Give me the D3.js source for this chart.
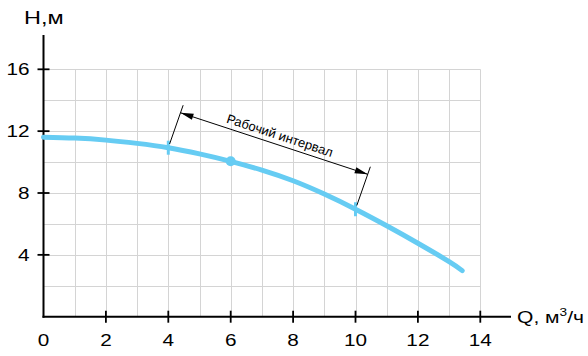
<!DOCTYPE html>
<html><head><meta charset="utf-8">
<script src="https://cdn.jsdelivr.net/npm/d3@7"></script>
<style>body{margin:0;background:#fff}svg{display:block}text{font-family:"Liberation Sans",Arial,sans-serif}</style>
</head><body>
<svg id="c" width="588" height="356"></svg>
<script>
const flowQ = [0,1,2,3,4,5,6,7,8,9,10,11,12,13,13.42];
const headH = [11.61,11.55,11.42,11.21,10.93,10.53,10.05,9.48,8.79,7.93,6.95,5.88,4.75,3.56,2.98];
const xTicks = [0,2,4,6,8,10,12,14];
const yTicks = [4,8,12,16];
const workStart = {q:4, h:10.93};
const workEnd = {q:10, h:6.95};
const dutyPoint = {q:6, h:10.05};
const yLabel = "Н,м";
const xLabel = "Q, м";
const annot = "Рабочий интервал";

const svg = d3.select("#c");
const x = d3.scaleLinear().domain([0,14]).range([43.5,480.3]);
const y = d3.scaleLinear().domain([0,16]).range([316.7,69.3]);
const gridCol = "#d4d4d4", blue = "#66CCF3";
const SX = 1.22;

// grid
const g = svg.append("g");
d3.range(1,15).forEach(v=>{
  g.append("line").attr("x1",Math.round(x(v))+0.5).attr("x2",Math.round(x(v))+0.5)
   .attr("y1",y(16)).attr("y2",y(0)).attr("stroke",gridCol).attr("stroke-width",1);
});
d3.range(2,17,2).forEach(v=>{
  g.append("line").attr("y1",Math.round(y(v))+0.5).attr("y2",Math.round(y(v))+0.5)
   .attr("x1",x(0)).attr("x2",x(14)).attr("stroke",gridCol).attr("stroke-width",1);
});

// axes
svg.append("line").attr("x1",x(0)).attr("x2",x(0)).attr("y1",35).attr("y2",y(0)+1)
  .attr("stroke","#000").attr("stroke-width",2);
svg.append("line").attr("x1",x(0)-1).attr("x2",511).attr("y1",y(0)).attr("y2",y(0))
  .attr("stroke","#000").attr("stroke-width",2);
xTicks.filter(v=>v>0).forEach(v=>{
  svg.append("line").attr("x1",x(v)).attr("x2",x(v)).attr("y1",y(0)-6).attr("y2",y(0)+6)
    .attr("stroke","#000").attr("stroke-width",1.8);
});
yTicks.forEach(v=>{
  svg.append("line").attr("x1",x(0)-6).attr("x2",x(0)+6).attr("y1",y(v)).attr("y2",y(v))
    .attr("stroke","#000").attr("stroke-width",1.8);
});
svg.selectAll(".xl").data(xTicks).enter().append("text")
  .attr("transform",d=>`translate(${x(d)},${y(0)+29}) scale(${SX},1)`).attr("text-anchor","middle")
  .attr("font-size",17).attr("fill","#000").text(d=>d);
svg.selectAll(".yl").data(yTicks).enter().append("text")
  .attr("transform",d=>`translate(${x(0)-14},${y(d)+6}) scale(${SX},1)`).attr("text-anchor","end")
  .attr("font-size",17).attr("fill","#000").text(d=>d);
svg.append("text").attr("transform",`translate(24,24) scale(1.27,1)`).attr("font-size",18.5).text(yLabel);
const ql = svg.append("text").attr("transform",`translate(517,${y(0)+6}) scale(1.24,1)`).attr("font-size",17).text(xLabel);
ql.append("tspan").attr("dy",-7).attr("font-size",11).text("3");
ql.append("tspan").attr("dy",7).text("/ч");

// curve
const pts = flowQ.map((q,i)=>[q,headH[i]]);
svg.append("path").datum(pts)
  .attr("d",d3.line().x(d=>x(d[0])).y(d=>y(d[1])).curve(d3.curveNatural))
  .attr("fill","none").attr("stroke",blue).attr("stroke-width",5).attr("stroke-linecap","round");

// markers
[workStart,workEnd].forEach(p=>{
  svg.append("line").attr("x1",x(p.q)).attr("x2",x(p.q)).attr("y1",y(p.h)-7).attr("y2",y(p.h)+7)
    .attr("stroke",blue).attr("stroke-width",3);
});
svg.append("circle").attr("cx",x(dutyPoint.q)).attr("cy",y(dutyPoint.h)).attr("r",5).attr("fill",blue);

// dimension annotation
const A = [x(workStart.q), y(workStart.h)], B = [x(workEnd.q), y(workEnd.h)];
const pv = [0.33,-0.944];
const P = (b,t)=>[b[0]+pv[0]*t, b[1]+pv[1]*t];
const ann = svg.append("g").attr("stroke","#000").attr("stroke-width",1);
[A,B].forEach(b=>{
  const s=P(b,4), e=P(b,45);
  ann.append("line").attr("x1",s[0]).attr("y1",s[1]).attr("x2",e[0]).attr("y2",e[1]);
});
const L = P(A,37), R = P(B,37);
ann.append("line").attr("x1",L[0]).attr("y1",L[1]).attr("x2",R[0]).attr("y2",R[1]);
const dx = R[0]-L[0], dy = R[1]-L[1], len = Math.hypot(dx,dy);
const u = [dx/len, dy/len], n = [-u[1], u[0]];
function arrow(tip, dir){
  const al=13, aw=3.2;
  const b=[tip[0]-dir[0]*al, tip[1]-dir[1]*al];
  svg.append("path").attr("d",`M${tip[0]},${tip[1]}L${b[0]+n[0]*aw},${b[1]+n[1]*aw}L${b[0]-n[0]*aw},${b[1]-n[1]*aw}Z`)
    .attr("fill","#000");
}
arrow(L,[-u[0],-u[1]]);
arrow(R,u);
const ang = Math.atan2(dy,dx)*180/Math.PI;
const M = [(L[0]+R[0])/2 + u[0]*3, (L[1]+R[1])/2 + u[1]*3];
svg.append("text").attr("transform",`translate(${M[0]},${M[1]}) rotate(${ang})`)
  .attr("y",-5).attr("text-anchor","middle").attr("font-size",13).attr("fill","#000").text(annot);
</script>
</body></html>
